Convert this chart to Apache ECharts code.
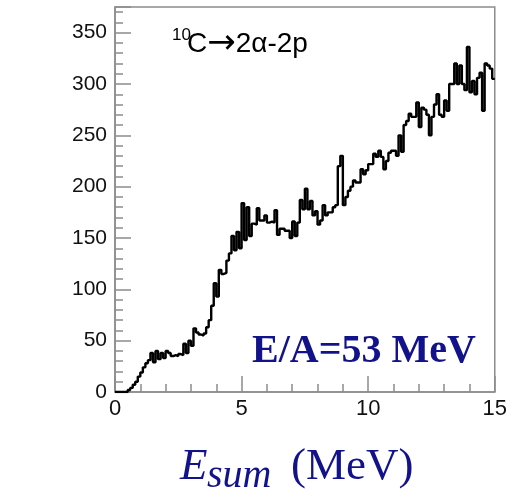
<!DOCTYPE html>
<html>
<head>
<meta charset="utf-8">
<script src="https://cdn.jsdelivr.net/npm/echarts@6.0.0/dist/echarts.min.js"></script>
<style>
html,body{margin:0;padding:0;background:#fff;}
#chart{width:510px;height:496px;}
</style>
</head>
<body>
<div id="chart"></div>
<script>
// Histogram: E_sum (MeV), bin width 0.1 MeV, from 0 to 15
const binWidth = 0.1;
const xMin = 0, xMax = 15;
const counts = [
  0, 0, 0, 0, 0, 2, 4, 7, 10, 15,
  19, 24, 28, 31, 38, 29, 40, 32, 38, 33,
  40, 38, 35, 36, 35, 37, 36, 47, 38, 50,
  45, 62, 58, 56, 55, 57, 63, 70, 84, 106,
  93, 119, 115, 116, 128, 135, 152, 138, 156, 140,
  184, 148, 180, 152, 164, 163, 179, 167, 167, 172,
  165, 166, 165, 177, 153, 159, 159, 157, 157, 150,
  166, 152, 165, 187, 178, 198, 178, 186, 172, 176,
  163, 167, 182, 172, 175, 175, 180, 182, 220, 230,
  182, 190, 196, 200, 206, 204, 204, 217, 212, 216,
  222, 222, 232, 229, 235, 229, 217, 225, 233, 235,
  235, 230, 250, 234, 260, 264, 271, 268, 268, 282,
  258, 277, 275, 270, 250, 268, 280, 290, 270, 268,
  284, 274, 300, 300, 320, 300, 318, 300, 294, 336,
  292, 303, 290, 306, 311, 274, 320, 318, 315, 305
];
const yMax = 375;
const xTickInterval = 5;
const yMajorInterval = 50;
const yMinorInterval = 10;
const annotationSup = '10';
const annotationParts = ['C', '\u2192', '2\u03b1-2p'];
const energyLabel = 'E/A=53 MeV';
const xTitleMain = 'E';
const xTitleSub = 'sum';
const xTitleUnit = '(MeV)';

const histData = counts.map((c, i) => [xMin + i * binWidth, c]);
histData.push([xMax, counts[counts.length - 1]]);

const axisGray = '#8c8c8c';
const chart = echarts.init(document.getElementById('chart'), null, {renderer: 'canvas'});
chart.setOption({
  animation: false,
  backgroundColor: '#fff',
  grid: {left: 115, right: 10, top: 7, bottom: 104, show: true, borderColor: axisGray, borderWidth: 1.5, backgroundColor: 'transparent'},
  xAxis: {
    type: 'value', min: xMin, max: xMax, interval: xTickInterval,
    axisLine: {show: true, lineStyle: {color: axisGray, width: 1.5}},
    axisTick: {show: true, inside: true, length: 16, lineStyle: {color: axisGray, width: 1.5}},
    minorTick: {show: true, splitNumber: 5, length: 8, lineStyle: {color: axisGray, width: 1.5}},
    splitLine: {show: false},
    axisLabel: {fontFamily: 'Liberation Sans', fontSize: 22, color: '#111', margin: 6}
  },
  yAxis: [{
    type: 'value', min: 0, max: yMax, interval: yMajorInterval,
    axisLine: {show: true, lineStyle: {color: axisGray, width: 1.5}},
    axisTick: {show: true, inside: true, length: 16, lineStyle: {color: axisGray, width: 1.5}},
    splitLine: {show: false},
    axisLabel: {fontFamily: 'Liberation Sans', fontSize: 21, color: '#111', margin: 8,
      formatter: v => (v % yMajorInterval === 0 ? String(v) : '')}
  }, {
    type: 'value', min: 0, max: yMax, interval: yMinorInterval, position: 'left',
    axisLine: {show: false},
    axisTick: {show: true, inside: true, length: 8, lineStyle: {color: axisGray, width: 1.5}},
    splitLine: {show: false},
    axisLabel: {show: false}
  }],
  series: [{
    type: 'line', step: 'end', data: histData, showSymbol: false, symbol: 'none',
    xAxisIndex: 0, yAxisIndex: 0, clip: true,
    lineStyle: {color: '#000', width: 2.4}
  }],
  graphic: [
    {type: 'text', left: 172, top: 27, style: {text: annotationSup, font: '17px "Liberation Sans"', fill: '#000'}},
    {type: 'text', x: 187, y: 44, style: {
      text: '{a|' + annotationParts[0] + '}{b|' + annotationParts[1] + '}{a|' + annotationParts[2] + '}',
      verticalAlign: 'middle', align: 'left',
      rich: {
        a: {fontFamily: 'Liberation Sans', fontSize: 28, color: '#000', lineHeight: 36, verticalAlign: 'middle'},
        b: {fontFamily: 'DejaVu Sans', fontSize: 34, color: '#000', lineHeight: 36, verticalAlign: 'middle'}
      }
    }},
    {type: 'text', x: 252, y: 352, style: {text: energyLabel, font: 'bold 40px "Liberation Serif"', fill: '#12128a', verticalAlign: 'middle', align: 'left'}},
    {type: 'text', x: 180, y: 467, style: {text: xTitleMain, font: 'italic 45px "Liberation Serif"', fill: '#12128a', verticalAlign: 'middle', align: 'left'}},
    {type: 'text', x: 207, y: 476, style: {text: xTitleSub, font: 'italic 40px "Liberation Serif"', fill: '#12128a', verticalAlign: 'middle', align: 'left'}},
    {type: 'text', x: 291, y: 467, style: {text: xTitleUnit, font: '45px "Liberation Serif"', fill: '#12128a', verticalAlign: 'middle', align: 'left'}}
  ]
});
</script>
</body>
</html>
